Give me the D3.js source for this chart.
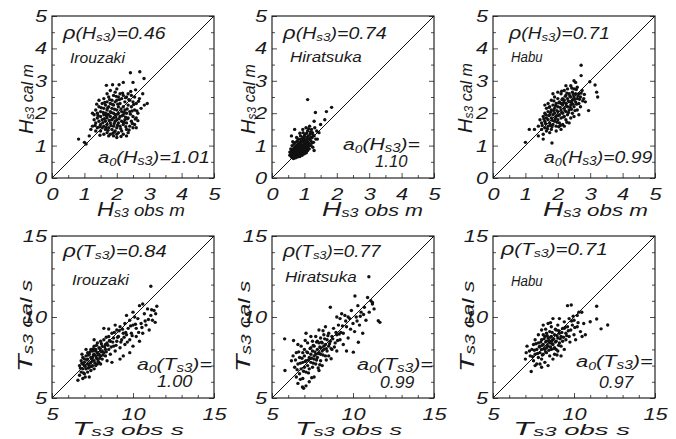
<!DOCTYPE html>
<html><head><meta charset="utf-8">
<script src="https://cdn.jsdelivr.net/npm/d3@7"></script>
<style>
html,body{margin:0;padding:0;background:#fff;}
text{font-family:"Liberation Sans",Arial,sans-serif;font-style:italic;fill:#1a1a1a;}
</style></head>
<body><svg id="c" width="676" height="439"></svg>
<script>
// ---------------- data ----------------
const stations = ["Irouzaki", "Hiratsuka", "Habu"];
const rhoH = ["0.46", "0.74", "0.71"];
const a0H  = ["1.01", "1.10", "0.99"];
const rhoT = ["0.84", "0.77", "0.71"];
const a0T  = ["1.00", "0.99", "0.97"];
const hTicks = [0, 1, 2, 3, 4, 5];
const hMinor = [0.5, 1.5, 2.5, 3.5, 4.5];
const tTicks = [5, 10, 15];
const tMinor = [6, 7, 8, 9, 11, 12, 13, 14];

const hIrouzaki = [[0.82,1.2],[1.0,1.1],[1.05,1.05],[1.15,1.3],[1.2,1.5],[2.42,3.25],[2.71,3.28],[2.84,3.07],[2.5,2.95],[2.2,2.95],[1.68,2.86],[2.94,2.3],[2.65,1.77],[2.6,1.55],[2.0,1.25],[2.3,1.3],[1.6,1.35],
[1.25,1.6],[1.3,1.8],[1.3,1.95],[1.35,1.7],[1.35,2.1],[1.4,1.55],[1.4,1.85],[1.4,2.0],[1.45,1.75],[1.45,2.2],[1.5,1.45],[1.5,1.65],[1.5,1.9],[1.5,2.05],[1.55,1.8],[1.55,2.3],[1.6,1.6],[1.6,1.95],[1.6,2.15],[1.6,2.45],[1.65,1.5],[1.65,1.75],[1.65,2.0],[1.65,2.25],[1.7,1.4],[1.7,1.65],[1.7,1.85],[1.7,2.1],[1.7,2.35],[1.7,2.6],[1.75,1.55],[1.75,1.95],[1.75,2.2],[1.75,2.5],[1.8,1.35],[1.8,1.7],[1.8,1.9],[1.8,2.05],[1.8,2.3],[1.8,2.7],[1.85,1.5],[1.85,1.8],[1.85,2.15],[1.85,2.4],[1.9,1.3],[1.9,1.6],[1.9,1.85],[1.9,2.0],[1.9,2.25],[1.9,2.55],[1.95,1.45],[1.95,1.75],[1.95,1.95],[1.95,2.35],[1.95,2.65],[2.0,1.55],[2.0,1.8],[2.0,2.1],[2.0,2.4],[2.0,2.75],[2.05,1.4],[2.05,1.7],[2.05,2.0],[2.05,2.2],[2.05,2.5],[2.1,1.6],[2.1,1.9],[2.1,2.3],[2.1,2.6],[2.15,1.45],[2.15,1.75],[2.15,2.05],[2.15,2.45],[2.2,1.35],[2.2,1.65],[2.2,1.95],[2.2,2.2],[2.2,2.55],[2.25,1.8],[2.25,2.1],[2.25,2.35],[2.3,1.5],[2.3,1.7],[2.3,2.0],[2.3,2.5],[2.35,1.85],[2.35,2.25],[2.35,2.6],[2.4,1.6],[2.4,2.05],[2.4,2.4],[2.45,1.75],[2.45,2.2],[2.45,2.55],[2.5,1.9],[2.5,2.35],[2.55,1.65],[2.55,2.1],[2.55,2.5],[2.6,1.85],[2.6,2.3],[2.65,2.0],[2.7,2.45],[2.75,2.15],[2.8,2.6],[2.85,2.25],[1.55,1.55],[1.45,2.4],[1.35,1.45],[1.25,2.0],[2.0,1.35],[1.75,1.3],[2.35,1.4],[2.5,1.55],
[1.33,1.62],[1.42,1.93],[1.47,1.58],[1.52,2.17],[1.57,1.71],[1.58,2.02],[1.62,1.83],[1.63,2.33],[1.67,1.56],[1.68,1.92],[1.72,2.17],[1.73,1.47],[1.77,1.78],[1.78,2.42],[1.82,1.62],[1.83,2.02],[1.87,2.27],[1.88,1.38],[1.92,1.68],[1.93,2.12],[1.97,1.88],[1.98,2.52],[2.02,1.63],[2.03,2.28],[2.07,1.83],[2.08,2.42],[2.12,1.52],[2.13,2.13],[2.17,1.92],[2.18,2.62],[2.22,1.72],[2.23,2.02],[2.27,2.48],[2.28,1.58],[2.32,2.13],[2.33,1.83],[2.37,2.42],[2.38,1.48],[2.42,1.97],[2.43,2.67],[2.47,2.07],[2.48,1.68],[2.52,2.27],[2.57,1.82],[2.62,2.07],[2.67,2.37],[1.87,2.88],[2.07,2.88],[1.48,1.32],[2.13,1.28],[2.58,2.72],[1.38,2.28],[1.92,1.42],[2.02,1.97],[1.72,1.97],[2.27,1.88]];

const hHiratsuka = [[1.1,2.42],[1.84,2.18],[1.34,2.02],[1.68,2.05],[1.63,1.8],[1.5,1.65],[1.3,1.75],[1.45,1.4],[1.4,1.2],[1.3,0.85],[0.6,1.3],[0.7,1.5],
[0.55,0.7],[0.55,0.8],[0.58,0.9],[0.6,0.65],[0.6,0.75],[0.6,0.85],[0.62,1.0],[0.63,0.7],[0.65,0.8],[0.65,0.9],[0.66,0.68],[0.68,0.75],[0.68,1.05],[0.7,0.7],[0.7,0.85],[0.7,0.95],[0.72,0.78],[0.72,1.1],[0.74,0.7],[0.74,0.9],[0.75,1.0],[0.76,0.8],[0.77,0.72],[0.78,0.88],[0.78,1.15],[0.8,0.75],[0.8,0.95],[0.8,1.05],[0.82,0.82],[0.82,1.2],[0.84,0.7],[0.84,0.9],[0.85,1.0],[0.86,0.78],[0.86,1.1],[0.88,0.85],[0.88,1.3],[0.9,0.72],[0.9,0.95],[0.9,1.05],[0.92,0.8],[0.92,1.15],[0.94,0.9],[0.94,1.0],[0.95,1.25],[0.96,0.78],[0.96,1.4],[0.98,0.88],[0.98,1.1],[1.0,0.95],[1.0,1.2],[1.0,1.05],[1.02,0.82],[1.02,1.35],[1.04,0.92],[1.04,1.15],[1.05,1.55],[1.06,1.0],[1.08,1.25],[1.08,0.88],[1.1,1.1],[1.1,1.45],[1.12,0.98],[1.12,1.3],[1.14,1.2],[1.15,1.05],[1.16,1.6],[1.18,1.35],[1.2,1.15],[1.2,1.0],[1.22,1.5],[1.24,1.25],[1.25,1.4],[1.28,1.1],[1.3,1.3],[1.32,1.55],[1.35,1.2],[1.38,1.45],[0.66,0.6],[0.72,0.62],[0.78,0.65],[0.86,0.66],[0.93,0.7],[1.0,0.75],[1.06,0.78],[0.64,1.12],[0.76,1.25],[0.86,1.38],[0.95,1.5],[1.15,0.9],[1.26,0.95],[0.58,0.75],[0.9,1.2],[1.0,1.3],[0.84,1.0],[0.74,0.95],[1.2,1.25],[1.1,0.85],
[0.63,0.83],[0.67,0.73],[0.69,0.88],[0.71,0.66],[0.73,0.83],[0.75,0.74],[0.77,0.93],[0.79,0.69],[0.81,0.87],[0.83,0.77],[0.83,1.08],[0.85,0.93],[0.87,0.71],[0.87,1.03],[0.89,0.8],[0.91,0.9],[0.91,1.12],[0.93,0.75],[0.95,0.97],[0.97,0.85],[0.97,1.18],[0.99,0.8],[1.01,1.0],[1.03,1.1],[1.05,0.85],[1.07,1.05],[1.09,1.18],[1.11,0.93],[1.13,1.08],[1.17,1.22],[1.19,1.42],[1.23,1.08],[1.27,1.33],[0.61,0.72],[0.69,0.63],[0.81,0.66],[0.89,1.18],[0.79,1.01],[1.07,1.38],[0.99,1.28],[1.13,1.52],[0.7,0.8],[0.76,0.86],[0.82,0.95],[0.88,0.92],[0.94,0.84],[1.0,0.88],[1.05,0.96],[0.9,0.83],[0.86,0.97]];

const hHabu = [[1.0,1.1],[1.12,1.5],[1.28,1.5],[1.82,1.08],[2.72,3.48],[2.72,3.16],[2.99,2.97],[3.2,2.65],[3.23,2.5],[2.95,2.08],[3.15,2.87],[1.4,1.3],[1.55,1.2],[2.5,3.0],[2.85,2.35],
[1.4,1.6],[1.45,1.8],[1.5,1.5],[1.5,1.7],[1.55,1.9],[1.6,1.55],[1.6,1.75],[1.6,2.0],[1.65,1.45],[1.65,1.85],[1.65,2.15],[1.7,1.6],[1.7,1.8],[1.7,2.05],[1.7,2.3],[1.75,1.7],[1.75,1.95],[1.75,2.2],[1.8,1.5],[1.8,1.85],[1.8,2.1],[1.8,2.4],[1.85,1.65],[1.85,1.95],[1.85,2.25],[1.9,1.75],[1.9,2.0],[1.9,2.15],[1.9,2.5],[1.95,1.6],[1.95,1.9],[1.95,2.3],[2.0,1.8],[2.0,2.05],[2.0,2.2],[2.0,2.45],[2.05,1.7],[2.05,1.95],[2.05,2.35],[2.1,1.85],[2.1,2.1],[2.1,2.3],[2.1,2.6],[2.15,1.65],[2.15,2.0],[2.15,2.25],[2.15,2.45],[2.2,1.9],[2.2,2.15],[2.2,2.4],[2.2,2.7],[2.25,1.8],[2.25,2.05],[2.25,2.3],[2.25,2.55],[2.3,1.95],[2.3,2.2],[2.3,2.45],[2.3,2.75],[2.35,2.1],[2.35,2.35],[2.35,2.6],[2.4,1.85],[2.4,2.25],[2.4,2.5],[2.4,2.85],[2.45,2.0],[2.45,2.4],[2.45,2.65],[2.5,2.2],[2.5,2.5],[2.5,2.75],[2.55,2.35],[2.55,2.6],[2.6,2.1],[2.6,2.45],[2.6,2.8],[2.65,2.3],[2.65,2.6],[2.7,2.5],[2.7,2.2],[2.75,2.7],[2.8,2.45],[1.55,1.35],[1.75,1.4],[1.95,1.45],[2.2,1.6],[2.5,1.9],[2.65,1.95],[1.6,2.25],[1.85,2.6],[2.0,2.65],[2.25,2.85],[2.55,2.95],[2.1,1.5],[2.35,1.7],
[1.52,1.62],[1.57,1.82],[1.62,1.68],[1.63,1.95],[1.68,1.52],[1.72,1.93],[1.73,2.18],[1.77,1.63],[1.78,2.03],[1.83,1.78],[1.87,2.08],[1.88,2.38],[1.92,1.83],[1.93,2.23],[1.97,2.08],[1.98,1.72],[2.02,1.93],[2.03,2.32],[2.07,2.18],[2.08,1.62],[2.12,2.02],[2.13,2.42],[2.17,1.88],[2.18,2.33],[2.22,2.08],[2.23,2.52],[2.27,2.22],[2.28,1.72],[2.32,2.38],[2.33,2.02],[2.37,2.53],[2.38,2.18],[2.42,2.33],[2.43,2.78],[2.47,2.28],[2.48,2.58],[2.52,2.43],[2.53,2.08],[2.57,2.73],[2.58,2.28],[2.62,2.53],[2.67,2.43],[2.72,2.62],[2.77,2.38],[2.82,2.58],[2.03,1.58],[2.28,2.62],[2.12,2.68],[1.82,1.58],[2.42,2.12]];

const tIrouzaki = [[6.6,6.1],[6.7,6.4],[6.7,7.0],[6.8,6.6],[6.8,7.3],[6.9,6.8],[6.9,7.5],[7.0,6.5],[7.0,7.0],[7.0,7.2],[7.1,6.8],[7.1,7.6],[7.2,6.6],[7.2,7.1],[7.2,7.4],[7.3,6.9],[7.3,7.7],[7.4,7.2],[7.4,8.0],[7.4,6.7],[7.5,7.5],[7.5,7.9],[7.5,7.0],[7.6,7.3],[7.6,8.2],[7.7,7.6],[7.7,7.0],[7.7,8.0],[7.8,7.4],[7.8,7.8],[7.8,8.4],[7.9,7.2],[7.9,8.1],[8.0,7.6],[8.0,7.9],[8.0,8.5],[8.1,7.4],[8.1,8.2],[8.2,7.8],[8.2,8.6],[8.3,7.6],[8.3,8.0],[8.4,8.4],[8.4,7.3],[8.5,8.8],[8.5,8.0],[8.6,7.7],[8.6,8.5],[8.7,9.0],[8.8,8.2],[8.8,8.7],[8.9,7.9],[9.0,8.5],[9.0,9.2],[9.1,8.8],[9.2,8.1],[9.2,9.4],[9.3,8.6],[9.4,9.0],[9.4,7.6],[9.5,9.6],[9.5,8.3],[9.6,8.9],[9.7,9.3],[9.8,8.6],[9.8,9.8],[9.9,9.0],[10.0,8.2],[10.0,9.5],[10.1,10.0],[10.2,8.8],[10.2,9.3],[10.3,9.9],[10.4,8.5],[10.4,10.7],[10.5,9.6],[10.6,9.0],[10.7,10.2],[10.8,9.5],[10.9,10.5],[11.0,9.2],[11.1,10.1],[11.1,11.9],[11.2,9.8],[11.4,10.2],[11.37,9.67],[11.47,10.66],[11.3,10.4],[8.5,9.26],[8.2,9.3],[7.6,8.6],[8.9,9.5],[9.8,7.8],[9.2,7.4],[8.7,7.2],[6.9,6.2],[7.3,6.3],[7.6,6.8],[8.0,7.1],[7.1,8.0],[10.6,10.8],[10.0,10.3],[9.6,10.1],
[7.2,7.8],[7.4,7.5],[7.6,7.7],[7.8,7.1],[7.9,7.7],[8.1,7.9],[7.5,7.3],[7.3,7.0],[7.0,7.4],[6.9,7.1],[7.7,7.9],[8.3,8.3],
[6.75,6.85],[6.85,7.15],[6.95,6.55],[7.05,6.95],[7.15,7.35],[7.25,6.85],[7.25,7.65],[7.35,7.15],[7.35,7.85],[7.45,6.95],[7.45,7.45],[7.55,7.65],[7.55,8.05],[7.65,7.15],[7.65,7.95],[7.75,7.45],[7.75,8.25],[7.85,7.65],[7.85,7.25],[7.95,8.05],[7.95,7.45],[8.05,7.85],[8.05,8.35],[8.15,7.65],[8.25,8.15],[8.35,7.85],[8.45,8.25],[8.55,8.55],[8.65,8.15],[8.75,8.45],[8.85,9.05],[8.95,8.25],[9.05,8.75],[9.15,9.15],[9.25,8.45],[9.35,9.25],[9.45,8.75],[9.55,9.05],[9.65,8.45],[9.85,9.45],[9.95,8.85],[10.15,9.55],[10.35,9.05],[10.55,9.35],[10.75,9.75],[10.95,9.85],[11.15,10.45],[7.05,6.3],[6.85,7.7],[8.35,8.75]];

const tHiratsuka = [[10.98,12.48],[5.78,8.65],[6.33,8.55],[5.8,6.7],[6.88,5.68],[6.95,5.6],[7.1,5.75],[6.6,5.9],[6.5,6.3],[11.56,9.77],[11.66,9.67],[10.12,11.3],[11.2,10.8],[11.1,11.0],[8.6,10.6],[10.02,7.83],[10.33,8.44],[8.65,7.42],[6.2,7.3],[6.3,7.6],[6.5,7.8],[6.4,6.9],[6.6,7.1],[6.7,6.5],[6.7,7.5],[6.8,6.8],[6.8,8.2],[6.9,7.2],[6.9,6.2],[7.0,7.6],[7.0,6.9],[7.0,8.0],[7.1,7.3],[7.1,6.6],[7.2,7.8],[7.2,7.0],[7.2,8.4],[7.3,7.5],[7.3,6.8],[7.4,8.1],[7.4,7.2],[7.4,7.7],[7.5,8.5],[7.5,6.9],[7.5,7.9],[7.6,7.4],[7.6,8.2],[7.7,7.7],[7.7,8.8],[7.7,7.1],[7.8,8.0],[7.8,7.5],[7.9,8.4],[7.9,7.8],[8.0,8.1],[8.0,7.3],[8.0,8.7],[8.1,7.9],[8.1,8.4],[8.2,8.0],[8.2,8.9],[8.3,7.6],[8.3,8.3],[8.4,8.6],[8.4,7.9],[8.5,8.2],[8.5,9.0],[8.6,8.5],[8.7,8.0],[8.7,8.8],[8.8,9.3],[8.9,8.4],[9.0,8.9],[9.0,7.9],[9.1,9.5],[9.2,8.6],[9.3,10.2],[9.4,9.0],[9.5,10.1],[9.6,9.4],[9.7,8.7],[9.8,9.9],[9.9,10.4],[10.0,9.6],[10.1,9.1],[10.2,10.0],[10.3,10.7],[10.4,9.5],[10.5,10.3],[10.6,9.0],[10.7,10.6],[10.8,9.8],[10.9,11.2],[11.0,10.3],[11.2,10.9],[11.3,10.5],[9.2,9.9],[9.0,10.0],[9.7,10.0],[7.9,9.2],[8.3,9.4],[7.4,8.8],[6.6,8.3],[7.1,9.0],[8.5,7.6],[9.4,8.3],[9.6,7.9],[7.6,6.3],[7.9,6.7],[8.1,7.0],[7.3,6.0],[6.9,7.8],[7.6,7.6],[7.8,8.5],[8.2,8.2],[8.0,7.7],
[6.45,7.35],[6.55,6.75],[6.65,7.85],[6.75,7.15],[6.85,7.45],[6.95,6.65],[7.05,7.25],[7.15,7.85],[7.25,6.55],[7.25,7.35],[7.35,8.05],[7.45,7.45],[7.55,7.15],[7.55,8.25],[7.65,7.85],[7.75,7.35],[7.75,8.45],[7.85,7.75],[7.95,8.15],[7.95,7.05],[8.05,8.45],[8.15,7.65],[8.25,8.65],[8.35,8.05],[8.45,8.85],[8.55,8.35],[8.65,8.05],[8.75,8.65],[8.85,8.15],[8.95,9.05],[9.05,8.55],[9.15,8.95],[9.35,9.45],[9.55,9.75],[9.85,9.25],[10.25,9.75],[10.45,10.05],[10.65,10.15],[8.35,7.35],[7.05,8.55],[6.75,6.15],[7.45,6.25],[8.15,9.15],[9.25,9.05],[7.85,6.85]];

const tHabu = [[9.83,10.74],[11.4,10.66],[12.08,9.51],[11.67,9.27],[11.4,9.88],[11.0,9.71],[7.36,6.64],[7.0,7.4],[7.05,7.8],[7.1,8.2],[10.48,10.29],[10.3,10.3],[10.2,10.1],[7.3,7.6],[7.4,8.0],[7.5,7.3],[7.5,8.3],[7.6,7.7],[7.6,8.6],[7.7,7.1],[7.7,8.0],[7.8,7.5],[7.8,8.4],[7.8,8.9],[7.9,7.8],[7.9,8.2],[8.0,7.4],[8.0,8.0],[8.0,8.6],[8.0,9.2],[8.1,7.7],[8.1,8.3],[8.2,8.0],[8.2,8.8],[8.2,7.2],[8.3,8.5],[8.3,7.8],[8.3,9.0],[8.4,8.2],[8.4,8.7],[8.5,7.6],[8.5,8.4],[8.5,9.1],[8.6,8.0],[8.6,8.8],[8.6,9.4],[8.7,8.3],[8.7,8.6],[8.7,7.4],[8.8,8.9],[8.8,8.1],[8.9,8.5],[8.9,9.2],[9.0,7.9],[9.0,8.7],[9.0,9.5],[9.1,8.4],[9.1,9.0],[9.2,8.2],[9.2,8.8],[9.3,9.3],[9.3,8.5],[9.4,9.7],[9.4,8.0],[9.5,9.0],[9.5,8.6],[9.6,9.4],[9.6,10.7],[9.7,8.8],[9.7,9.9],[9.8,9.2],[9.9,9.5],[10.0,8.9],[10.0,9.8],[10.1,8.6],[10.2,9.4],[10.4,9.1],[10.5,8.8],[10.6,9.6],[10.7,8.9],[8.4,7.0],[8.0,6.9],[7.9,7.1],[8.8,7.7],[9.2,7.6],[8.1,9.5],[8.4,9.6],[8.7,9.9],[9.1,9.9],[7.6,7.0],[8.9,8.0],[9.4,9.3],[8.3,8.1],[8.6,8.5],[8.1,8.9],
[7.75,7.75],[7.85,8.15],[7.95,8.45],[8.05,7.65],[8.05,8.25],[8.15,8.05],[8.15,8.65],[8.25,7.85],[8.25,8.45],[8.35,8.25],[8.35,8.85],[8.45,7.95],[8.45,8.55],[8.55,8.15],[8.55,8.75],[8.65,8.35],[8.65,9.05],[8.75,8.05],[8.75,8.65],[8.85,8.45],[8.85,9.25],[8.95,8.85],[9.05,8.25],[9.05,9.15],[9.15,8.65],[9.25,9.05],[9.35,8.75],[9.45,9.35],[9.55,8.85],[9.65,9.15],[9.85,9.75],[10.05,9.35],[10.25,9.65],[7.55,7.95],[7.65,8.35],[8.95,7.65],[8.25,9.25],[8.55,9.65],[9.95,10.05],[7.45,7.55],[7.25,7.9],[9.75,8.45]];

// ---------------- layout ----------------
const colX = [52, 272, 493];
const rowY = [16, 236];
const S = 162;
const SX = 1.28; // horizontal stretch of the lettering
const svg = d3.select("#c");

// rich text: parts = [text, size, baselineShift]; stretched to a target ink width
function rich(g, x, y, parts, width, rotate) {
  const grp = g.append("g");
  const t = grp.append("text").attr("x", 0).attr("y", 0);
  let cur = 0;
  parts.forEach(p => {
    const sh = p[2] || 0;
    t.append("tspan").attr("font-size", p[1]).attr("dy", sh - cur).text(p[0]);
    cur = sh;
  });
  const w = t.node().getBBox().width;
  const s = width ? width / w : SX;
  grp.attr("transform", `translate(${x},${y})${rotate ? " rotate(-90)" : ""} scale(${s},1)`);
  return grp;
}

const panels = [];
stations.forEach((st, i) => {
  panels.push({row: 0, col: i, data: [hIrouzaki, hHiratsuka, hHabu][i], dom: [0, 5],
    ticks: hTicks, minor: hMinor, v: "H", unit: "m", name: st, rho: rhoH[i], a0: a0H[i]});
});
stations.forEach((st, i) => {
  panels.push({row: 1, col: i, data: [tIrouzaki, tHiratsuka, tHabu][i], dom: [5, 15],
    ticks: tTicks, minor: tMinor, v: "T", unit: "s", name: st, rho: rhoT[i], a0: a0T[i]});
});

// text placement in page pixels: [x, baseline, width]
const rhoPos  = [[63,39,104],[283,39,105],[509,39,102],[63,257,105],[283,257,100],[501,255,108]];
const namePos = [[70,63,56],[290,62,72],[511,62,32],[72,285,58],[285,282,72],[511,286,32]];
const a0Pos   = [[98,163,112],[343,150,77],[544,163,109],[137,370,75],[357,370,76],[576,367,77]];
const valPos  = [null,[375,167,33],null,[157,387,36],[380,388,35],[599,388,35]];
const xTitle  = [[97,216,88],[322,216,101],[543,216,105],[72,435,113],[295,435,108],[513,435,118]];
const yTitle  = [[33,134,70],[255,134,70],[472,133,70],[32,372,93],[250,372,92],[474,372,92]];

panels.forEach((p, k) => {
  const x0 = colX[p.col], y0 = rowY[p.row];
  const g = svg.append("g");
  const x = d3.scaleLinear().domain(p.dom).range([x0, x0 + S]);
  const y = d3.scaleLinear().domain(p.dom).range([y0 + S, y0]);

  const ax = g.append("g").attr("transform", `translate(0,${y0 + S})`)
    .call(d3.axisBottom(x).tickValues(p.ticks).tickSize(-5).tickSizeOuter(0).tickPadding(p.row ? 10 : 10).tickFormat(d3.format("d")));
  const ay = g.append("g").attr("transform", `translate(${x0},0)`)
    .call(d3.axisLeft(y).tickValues(p.ticks).tickSize(-5).tickSizeOuter(0).tickPadding(5).tickFormat(d3.format("d")));
  const ar = g.append("g").attr("transform", `translate(${x0 + S},0)`)
    .call(d3.axisRight(y).tickValues(p.ticks).tickSize(-5).tickSizeOuter(0).tickFormat(""));
  const mb = g.append("g").attr("transform", `translate(0,${y0 + S})`)
    .call(d3.axisBottom(x).tickValues(p.minor).tickSize(-3).tickSizeOuter(0).tickFormat(""));
  const ml = g.append("g").attr("transform", `translate(${x0},0)`)
    .call(d3.axisLeft(y).tickValues(p.minor).tickSize(-3).tickSizeOuter(0).tickFormat(""));
  const mr = g.append("g").attr("transform", `translate(${x0 + S},0)`)
    .call(d3.axisRight(y).tickValues(p.minor).tickSize(-3).tickSizeOuter(0).tickFormat(""));
  [ax, ay, ar, mb, ml, mr].forEach(a => {
    a.select(".domain").remove();
    a.selectAll("line").attr("stroke", "#222").attr("stroke-width", 0.8);
    a.selectAll("text").attr("font-size", 17).attr("font-family", "Liberation Sans, Arial, sans-serif")
      .attr("font-style", "italic").attr("fill", "#1a1a1a")
      .each(function () {
        const t = d3.select(this);
        const xx = +t.attr("x") || 0;
        t.attr("x", xx / SX).attr("transform", `scale(${SX},1)`);
      });
  });

  g.append("rect").attr("x", x0).attr("y", y0).attr("width", S).attr("height", S)
    .attr("fill", "none").attr("stroke", "#111").attr("stroke-width", 1.1);
  g.append("line").attr("x1", x(p.dom[0])).attr("y1", y(p.dom[0]))
    .attr("x2", x(p.dom[1])).attr("y2", y(p.dom[1])).attr("stroke", "#111").attr("stroke-width", 1);

  g.append("g").selectAll("circle").data(p.data).join("circle")
    .attr("cx", d => x(d[0])).attr("cy", d => y(d[1])).attr("r", 1.7).attr("fill", "#111");

  const r = rhoPos[k];
  rich(g, r[0], r[1], [["ρ", 18, 0], ["(" + p.v, 16, 0], ["s3", 11, 2], [")=" + p.rho, 16, 0]], r[2]);
  const n = namePos[k];
  rich(g, n[0], n[1], [[p.name, 14, 0]], n[2]);
  const a = a0Pos[k], vpos = valPos[k];
  rich(g, a[0], a[1], [["a", 17, 0], ["0", 11, 3], ["(" + p.v, 17, 0], ["s3", 12, 2], [")=" + (vpos ? "" : p.a0), 17, 0]], a[2]);
  if (vpos) rich(g, vpos[0], vpos[1], [[p.a0, 17, 0]], vpos[2]);

  const xt = xTitle[k];
  const big = p.row ? 18 : 20, mid = p.row ? 15 : 16;
  rich(g, xt[0], xt[1], [[p.v, big, 0], ["s3", 12, 1], [" obs  " + p.unit, mid, 0]], xt[2]);
  const yt = yTitle[k];
  if (p.row === 0) {
    rich(g, yt[0], yt[1], [[p.v, 20, 0], ["s3", 12, 1], [" cal m", 16, 0]], yt[2], true);
  } else {
    rich(g, yt[0], yt[1], [[p.v, 21, 0], ["s3", 14, 1], [" cal  " + p.unit, 17, 0]], yt[2], true);
  }
});
</script></body></html>
